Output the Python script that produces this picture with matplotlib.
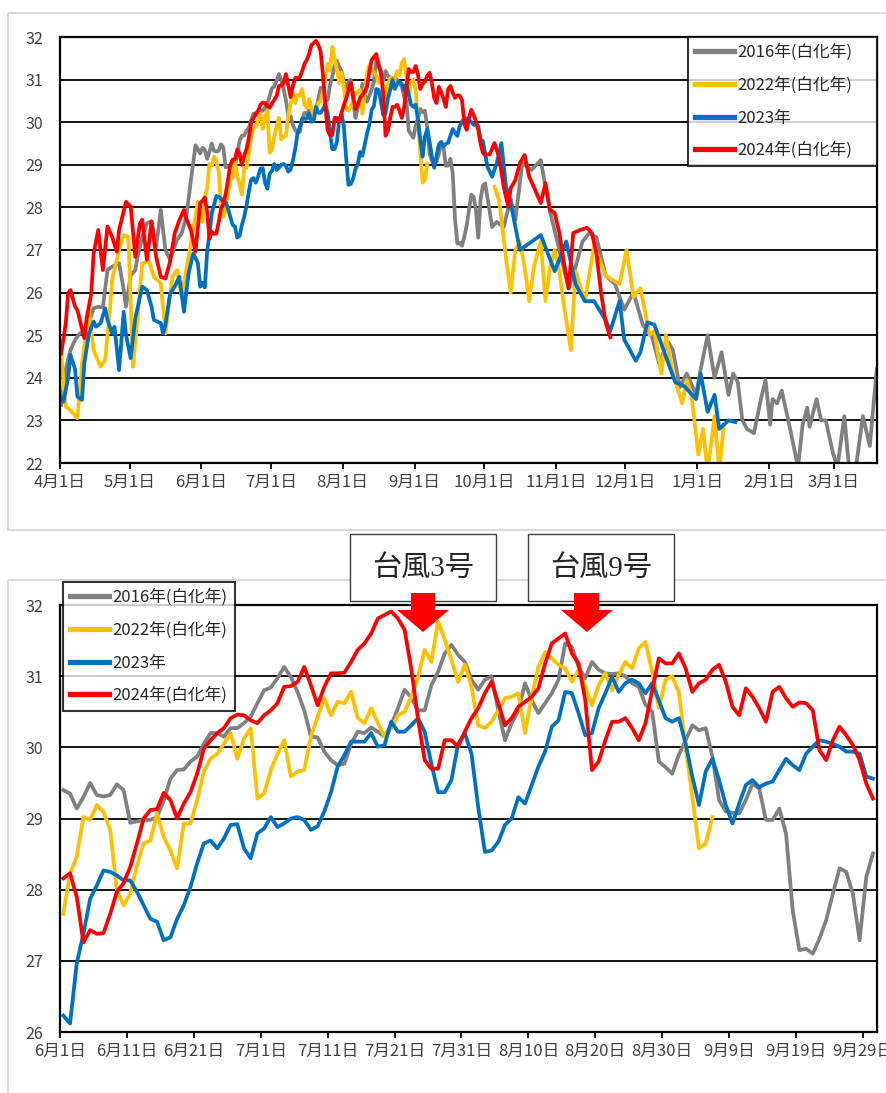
import matplotlib
matplotlib.use("Agg")
import matplotlib.pyplot as plt
from matplotlib.patches import Rectangle, Polygon

plt.rcParams['font.family'] = ['Noto Sans CJK JP', 'DejaVu Sans']

series_labels = ['2016年(白化年)', '2022年(白化年)', '2023年', '2024年(白化年)']
series_colors = ['#808080', '#FFC000', '#0070C0', '#FF0000']

# ---------------- daily values, June 1 - Sept 30 (bottom panel) ----------------
gray_summer = [29.40, 29.35, 29.14, 29.30, 29.50, 29.33, 29.31, 29.33, 29.48, 29.40,
               28.94, 28.96, 28.98, 28.98, 29.02, 29.25, 29.56, 29.68, 29.69, 29.80,
               29.87, 30.05, 30.20, 30.20, 30.15, 30.27, 30.27, 30.34, 30.43, 30.62,
               30.80, 30.84, 30.97, 31.13, 30.99, 30.78, 30.52, 30.15, 30.14, 29.94,
               29.82, 29.75, 29.77, 30.05, 30.22, 30.20, 30.28, 30.22, 30.15, 30.31,
               30.55, 30.81, 30.70, 30.52, 30.52, 30.87, 31.06, 31.32, 31.44, 31.30,
               31.20, 30.95, 30.81, 30.95, 31.00, 30.52, 30.10, 30.34, 30.52, 30.90,
               30.66, 30.48, 30.62, 30.76, 30.95, 31.46, 31.41, 31.13, 30.97, 31.20,
               31.09, 31.04, 31.03, 31.04, 31.00, 30.90, 30.85, 30.60, 30.50, 29.80,
               29.72, 29.63, 29.90, 30.10, 30.31, 30.24, 30.27, 29.87, 29.26, 29.10,
               29.08, 29.07, 29.26, 29.49, 29.42, 28.98, 28.98, 29.14, 28.79, 27.71,
               27.15, 27.17, 27.10, 27.31, 27.57, 27.94, 28.30, 28.25, 27.94, 27.29,
               28.18, 28.51]
yellow_summer = [27.66, 28.23, 28.46, 29.02, 28.98, 29.19, 29.09, 28.84, 27.99, 27.78,
                 27.94, 28.34, 28.65, 28.69, 29.07, 28.74, 28.55, 28.30, 28.93, 28.93,
                 29.26, 29.66, 29.84, 29.91, 30.05, 30.20, 29.84, 30.12, 30.27, 29.28,
                 29.35, 29.68, 29.91, 30.10, 29.59, 29.66, 29.68, 30.15, 30.43, 30.69,
                 30.45, 30.64, 30.62, 30.78, 30.41, 30.34, 30.55, 30.34, 30.15, 30.27,
                 30.45, 30.50, 30.71, 30.99, 31.37, 31.20, 31.77, 31.51, 31.23, 30.92,
                 31.16, 30.85, 30.31, 30.27, 30.36, 30.52, 30.69, 30.71, 30.76, 30.20,
                 30.71, 31.13, 31.34, 31.25, 31.16, 31.11, 30.92, 31.09, 30.85, 30.59,
                 30.87, 31.04, 30.80, 31.02, 31.20, 31.11, 31.39, 31.48, 31.06, 30.55,
                 30.95, 31.00, 30.76, 30.00, 29.30, 28.58, 28.65, 29.02]
blue_summer = [26.23, 26.12, 26.96, 27.38, 27.87, 28.06, 28.27, 28.25, 28.20, 28.13,
               28.13, 27.97, 27.78, 27.59, 27.55, 27.29, 27.33, 27.59, 27.78, 28.04,
               28.37, 28.65, 28.69, 28.58, 28.72, 28.91, 28.92, 28.58, 28.44, 28.79,
               28.86, 29.02, 28.88, 28.93, 29.00, 29.02, 28.98, 28.84, 28.89, 29.10,
               29.37, 29.73, 29.89, 30.08, 30.08, 30.08, 30.20, 30.01, 30.03, 30.36,
               30.22, 30.22, 30.31, 30.41, 30.22, 29.77, 29.37, 29.37, 29.54, 30.05,
               30.20, 29.91, 29.16, 28.53, 28.55, 28.67, 28.91, 29.00, 29.30, 29.21,
               29.47, 29.73, 29.94, 30.29, 30.38, 30.78, 30.76, 30.48, 30.17, 30.20,
               30.55, 30.76, 30.99, 30.78, 30.90, 30.95, 30.90, 30.76, 30.90, 30.66,
               30.41, 30.36, 30.41, 30.05, 29.59, 29.19, 29.66, 29.84, 29.54, 29.19,
               28.93, 29.21, 29.47, 29.54, 29.44, 29.49, 29.52, 29.68, 29.84, 29.75,
               29.68, 29.91, 30.01, 30.10, 30.08, 30.05, 30.01, 29.94, 29.94, 29.91,
               29.59, 29.56]
red_summer = [28.16, 28.23, 27.90, 27.26, 27.43, 27.38, 27.39, 27.66, 27.97, 28.09,
              28.32, 28.65, 29.00, 29.12, 29.13, 29.36, 29.26, 29.00, 29.21, 29.37,
              29.63, 29.98, 30.10, 30.20, 30.27, 30.41, 30.46, 30.45, 30.38, 30.34,
              30.45, 30.52, 30.62, 30.85, 30.86, 30.92, 31.13, 30.87, 30.59, 30.85,
              31.04, 31.04, 31.05, 31.20, 31.37, 31.46, 31.60, 31.81, 31.86, 31.91,
              31.81, 31.65, 31.10, 30.40, 29.82, 29.70, 29.70, 30.10, 30.10, 30.01,
              30.22, 30.41, 30.55, 30.76, 30.92, 30.62, 30.31, 30.41, 30.57, 30.64,
              30.71, 30.83, 31.18, 31.46, 31.53, 31.60, 31.32, 31.18, 30.66, 29.68,
              29.80, 30.10, 30.36, 30.36, 30.41, 30.27, 30.10, 30.34, 30.80, 31.25,
              31.18, 31.18, 31.32, 31.11, 30.78, 30.90, 30.95, 31.09, 31.16, 30.92,
              30.57, 30.45, 30.83, 30.71, 30.55, 30.36, 30.78, 30.85, 30.69, 30.57,
              30.63, 30.62, 30.52, 29.96, 29.82, 30.10, 30.29, 30.17, 30.03, 29.82,
              29.49, 29.28]

# ---------------- April - May (days since Apr 1) ----------------
gray_spring_days = [0, 2, 4, 6, 8, 10, 12, 14, 16, 18, 20, 22, 25, 27, 28, 30, 32, 33, 35,
                    37, 39, 41, 43, 45, 47, 50, 52, 54, 56, 58, 60]
gray_spring = [23.36, 24.2, 24.65, 24.89, 25.04, 25.1, 25.28, 25.63, 25.67, 25.65, 26.53,
               26.61, 26.69, 26.06, 25.67, 26.4, 26.53, 26.84, 27.31, 27.63, 27.67, 27.08,
               27.94, 27.0, 26.77, 27.24, 27.39, 27.78, 28.64, 29.46, 29.27]
yellow_spring_days = [0, 1, 2, 4, 7, 9, 12, 14, 17, 19, 21, 22, 25, 27, 29, 31, 33, 35, 38,
                      40, 43, 45, 48, 50, 52, 54, 56, 59, 60]
yellow_spring = [24.61, 23.87, 23.32, 23.24, 23.05, 24.34, 25.59, 24.65, 24.26, 24.42,
                 25.59, 26.30, 27.0, 27.35, 27.31, 24.26, 25.43, 26.69, 26.73, 26.37,
                 26.22, 25.04, 26.37, 26.53, 25.90, 26.53, 27.16, 28.13, 27.8]
blue_spring_days = [0, 1, 3, 4, 6, 7, 9, 10, 12, 14, 15, 17, 19, 20, 22, 23, 25, 27, 28,
                    30, 32, 35, 37, 39, 40, 43, 44, 45, 47, 49, 51, 53, 55, 57, 59, 60]
blue_spring = [23.52, 23.44, 24.0, 24.54, 24.2, 23.56, 23.48, 24.34, 25.04, 25.32, 25.20,
               25.28, 25.63, 25.36, 25.04, 25.20, 24.18, 25.55, 25.0, 24.46, 25.4, 26.14,
               26.06, 25.67, 25.36, 25.28, 25.04, 25.24, 25.98, 26.14, 26.37, 25.55,
               26.45, 26.92, 26.69, 26.14]
red_spring_days = [0, 2, 3, 4, 6, 7, 10, 11, 13, 14, 16, 18, 20, 22, 24, 25, 28, 30, 32,
                   34, 35, 37, 39, 41, 43, 45, 47, 49, 51, 53, 54, 56, 58, 60]
red_spring = [24.57, 25.28, 25.98, 26.06, 25.67, 25.59, 24.93, 25.40, 25.98, 26.92, 27.47,
              26.53, 27.55, 27.31, 26.96, 27.47, 28.13, 28.02, 26.84, 27.63, 27.71, 26.77,
              27.67, 26.84, 26.37, 26.33, 26.73, 27.39, 27.70, 27.94, 27.74, 27.47,
              26.96, 28.10]

# ---------------- October - March (days since Apr 1) ----------------
gray_autumn_days = [183, 186, 188, 191, 194, 196, 199, 203, 207, 209,
                    211, 215, 219, 222, 225, 228, 231, 235, 239, 243,
                    247, 251, 255, 258, 262, 264, 267, 270, 274, 276,
                    279, 282, 285, 288, 290, 292, 294, 296, 299, 302,
                    304, 306, 307, 309, 311, 313, 315, 318, 320, 322,
                    323, 326, 328, 330, 333, 335, 338, 340, 343, 346,
                    349, 352]
gray_autumn = [28.56, 27.54, 27.66, 27.54, 28.2, 27.7, 29.04, 28.88, 29.11, 28.48,
               27.9, 27.0, 26.1, 26.6, 27.2, 27.4, 27.3, 26.4, 26.2, 25.6,
               26.0, 25.25, 24.96, 24.35, 24.84, 24.65, 23.78, 24.1, 23.6, 24.2,
               25.0, 24.0, 24.6, 23.6, 24.1, 23.9, 23.0, 22.8, 22.7, 23.5,
               23.95, 22.9, 23.5, 23.4, 23.7, 23.2, 22.7, 21.9, 22.9, 23.3,
               22.85, 23.5, 23.0, 23.0, 22.25, 21.9, 23.1, 21.9, 21.9, 23.1,
               22.4, 24.2]
yellow_autumn_days = [187, 189, 192, 194, 196, 198, 200, 202, 204, 207, 209, 211, 213, 215,
                      217, 220, 222, 226, 230, 235, 241, 244, 247, 250, 254, 256, 259, 261,
                      264, 268, 270, 272, 275, 277, 279, 282, 284, 286]
yellow_autumn = [28.48, 28.17, 26.8, 26.0, 27.0, 27.2, 26.6, 25.8, 26.6, 27.2, 25.8, 26.6,
                 27.0, 26.5, 25.7, 24.65, 26.5, 25.8, 27.1, 26.4, 26.2, 27.0, 25.9, 26.1,
                 25.0, 25.1, 24.1, 25.0, 24.1, 23.4, 23.95, 23.6, 22.2, 22.8, 21.8, 23.1,
                 21.8, 22.9]
blue_autumn_days = [184, 186, 188, 190, 192, 194, 198, 207, 213, 218, 222, 226, 230, 235,
                    237, 241, 243, 248, 250, 253, 256, 261, 265, 269, 274, 276, 279, 282,
                    284, 288, 291]
blue_autumn = [28.95, 28.72, 29.04, 29.51, 28.48, 28.10, 27.0, 27.35, 26.5, 27.2, 26.2,
               25.8, 25.8, 25.35, 25.1, 25.8, 24.9, 24.4, 24.6, 25.3, 25.25, 24.5, 23.9,
               23.8, 23.5, 24.1, 23.2, 23.6, 22.8, 23.0, 22.96]
red_autumn_days = [183, 185, 187, 189, 191, 193, 194, 196, 198, 200, 202, 204, 207, 209,
                   211, 213, 215, 217, 219, 221, 224, 227, 229, 231, 233, 235, 237]
red_autumn = [29.23, 29.25, 29.51, 29.18, 28.48, 28.01, 28.45, 28.64, 29.04, 29.23, 28.72,
              28.48, 28.10, 28.57, 27.94, 27.87, 27.40, 26.70, 26.10, 27.40, 27.47, 27.52,
              27.40, 26.93, 26.0, 25.3, 24.95]

top_ticks = [0, 30, 61, 91, 122, 153, 183, 214, 244, 275, 306, 334]
top_ticklabels = ['4月1日', '5月1日', '6月1日', '7月1日', '8月1日', '9月1日', '10月1日',
                  '11月1日', '12月1日', '1月1日', '2月1日', '3月1日']
bottom_ticks = list(range(0, 121, 10))
bottom_ticklabels = ['6月1日', '6月11日', '6月21日', '7月1日', '7月11日', '7月21日',
                     '7月31日', '8月10日', '8月20日', '8月30日', '9月9日', '9月19日', '9月29日']
typhoon_labels = ['台風3号', '台風9号']

JUNE1 = 61  # day index of June 1 counted from April 1

W, H = 886, 1093
fig = plt.figure(figsize=(W / 100, H / 100), dpi=100)

# background frames
bg = fig.add_axes([0, 0, 1, 1], zorder=0)
bg.set_xlim(0, W); bg.set_ylim(H, 0); bg.axis('off')
bg.add_patch(Rectangle((8, 13), 900, 517, fill=False, ec='#d9d9d9', lw=1.5))
bg.add_patch(Rectangle((8, 580), 900, 530, fill=False, ec='#d9d9d9', lw=1.5))

tick_color = '#404040'
FS = 12


def style_axes(ax, ylo, yhi):
    ax.set_ylim(ylo, yhi)
    ax.set_yticks(range(ylo, yhi + 1))
    ax.yaxis.grid(True, color='black', lw=1.3)
    ax.set_axisbelow(True)
    for s in ax.spines.values():
        s.set_color('black')
        s.set_linewidth(1.6)
    ax.tick_params(axis='y', length=0, pad=12, labelsize=FS - 0.5, labelcolor=tick_color)
    ax.tick_params(axis='x', direction='out', length=4, width=1.3, pad=4,
                   labelsize=FS, labelcolor=tick_color)


def style_legend(leg):
    leg.get_frame().set_linewidth(1.5)
    for t in leg.get_texts():
        t.set_color('#262626')
    for ln in leg.get_lines():
        ln.set_linewidth(3.8)


series = [
    (gray_spring_days, gray_spring, gray_summer, gray_autumn_days, gray_autumn),
    (yellow_spring_days, yellow_spring, yellow_summer, yellow_autumn_days, yellow_autumn),
    (blue_spring_days, blue_spring, blue_summer, blue_autumn_days, blue_autumn),
    (red_spring_days, red_spring, red_summer, red_autumn_days, red_autumn),
]

# ---------------- top panel ----------------
ax1 = fig.add_axes([60 / W, 1 - 463 / H, 817 / W, 426 / H], zorder=1)
style_axes(ax1, 22, 32)
for (sd, sv, summer, ad, av), lab, col in zip(series, series_labels, series_colors):
    xs = [d + 0.5 for d in sd] + [JUNE1 + i + 0.5 for i in range(len(summer))]
    ys = list(sv) + list(summer)
    last_day = JUNE1 + len(summer) - 1
    if ad[0] - last_day <= 5:          # continuous record
        xs += [d + 0.5 for d in ad]
        ys += list(av)
        ax1.plot(xs, ys, color=col, lw=2.7, solid_joinstyle='round', label=lab)
    else:                              # gap in the record
        ax1.plot(xs, ys, color=col, lw=2.7, solid_joinstyle='round', label=lab)
        ax1.plot([d + 0.5 for d in ad], av, color=col, lw=2.7, solid_joinstyle='round')
ax1.set_xlim(0, 352.6)
ax1.set_xticks(top_ticks)
ax1.set_xticklabels(top_ticklabels)
leg1 = ax1.legend(loc='upper right', bbox_to_anchor=(628 / 817, 0, 189 / 817, 1),
                  mode='expand', borderaxespad=0,
                  frameon=True, fancybox=False, edgecolor='black', fontsize=FS,
                  handlelength=2.35, handletextpad=0.2, labelspacing=0.93,
                  borderpad=0.42)
style_legend(leg1)

# ---------------- bottom panel ----------------
ax2 = fig.add_axes([60 / W, 1 - 1032 / H, 817 / W, 427 / H], zorder=1)
style_axes(ax2, 26, 32)
for (sd, sv, summer, ad, av), lab, col in zip(series, series_labels, series_colors):
    ax2.plot([i + 0.5 for i in range(len(summer))], summer, color=col, lw=2.7,
             solid_joinstyle='round', label=lab)
ax2.set_xlim(0, 122.1)
ax2.set_xticks(bottom_ticks)
ax2.set_xticklabels(bottom_ticklabels)
leg2 = ax2.legend(loc='upper left', bbox_to_anchor=(3 / 817, 1 + 23 / 427), borderaxespad=0,
                  frameon=True, fancybox=False, edgecolor='black', fontsize=FS,
                  handlelength=2.35, handletextpad=0.2, labelspacing=0.93,
                  borderpad=0.42)
style_legend(leg2)

# ---------------- annotations (boxes + arrows) ----------------
fg = fig.add_axes([0, 0, 1, 1], zorder=5)
fg.set_xlim(0, W); fg.set_ylim(H, 0); fg.axis('off')
fg.patch.set_alpha(0)
boxes = [(350, 534, 146, 67), (528, 534, 146, 67)]
arrows = [(423, 411, 435, 397, 449), (587, 574, 599, 561, 613)]
for (bx, by, bw, bh), text in zip(boxes, typhoon_labels):
    fg.add_patch(Rectangle((bx, by), bw, bh, fc='white', ec='#404040', lw=1.0))
    fg.text(bx + bw / 2, by + bh / 2 + 1, text, ha='center', va='center', fontsize=21,
            color='#262626', family=['Liberation Serif', 'Noto Sans CJK JP'])
for tip, s0, s1, h0, h1 in arrows:
    fg.add_patch(Polygon([(s0, 593), (s1, 593), (s1, 610), (h1, 610), (tip, 632),
                          (h0, 610), (s0, 610)], closed=True, fc='#FF0000', ec='none'))

fig.savefig('out.png', dpi=100)
